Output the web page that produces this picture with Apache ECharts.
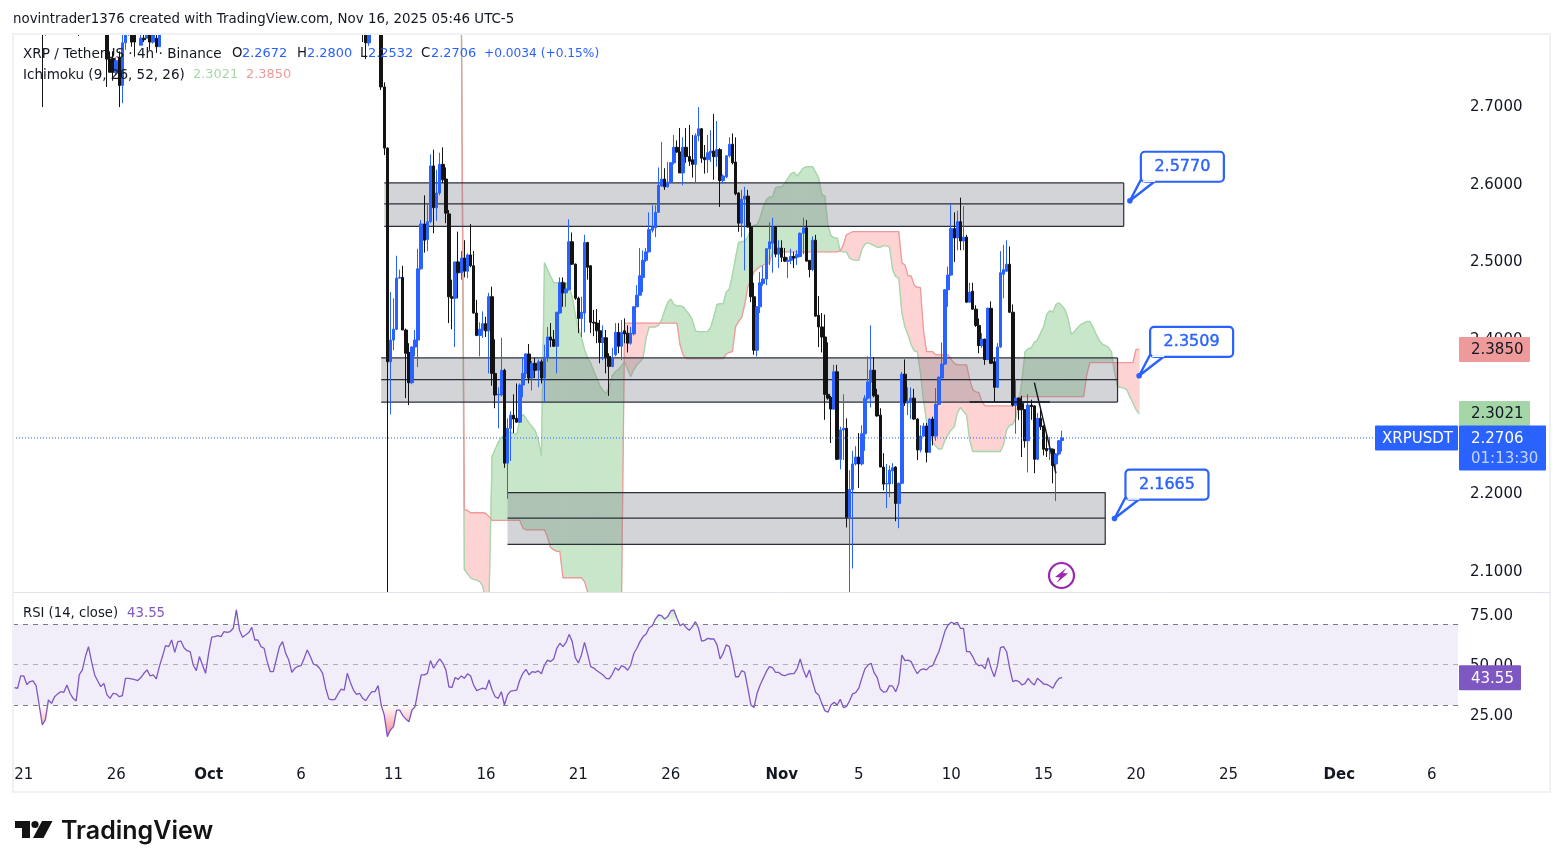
<!DOCTYPE html>
<html>
<head>
<meta charset="utf-8">
<title>XRPUSDT 4h</title>
<script src="https://cdn.jsdelivr.net/npm/echarts@6/dist/echarts.min.js"></script>
<style>
  html, body { margin: 0; padding: 0; background: #fff; }
  #chart { width: 1563px; height: 868px; }
</style>
</head>
<body>
<div id="chart"></div>
<script>
// x positions of the few bars that poke into the picture on the left, then every bar from 121 on
const leftBars = [9,10,21,30,31,32,33,34,35,36,37,38,39,41,42,43,44,45,46,47,113,114,115,119,120]
const firstFullBar = 121

const opens = [
  2.86,2.83,2.83,2.81,2.760,2.761,2.743,2.762,2.726,2.781,2.80,2.794,2.791,2.778,2.787,2.787,2.80,2.782,2.787,2.776,2.80,2.80,2.781,2.84,2.724,
  2.645,2.369,2.397,2.411,2.477,2.478,2.410,2.381,2.342,2.388,
  2.397,2.489,2.547,2.527,2.550,2.622,2.568,2.587,2.624,2.605,
  2.560,2.453,2.451,2.498,2.484,2.503,2.486,2.507,2.493,2.432,
  2.403,2.410,2.418,2.409,2.453,2.354,2.326,2.326,2.358,2.238,
  2.283,2.300,2.296,2.291,2.339,2.354,2.379,2.348,2.367,2.358,
  2.369,2.348,2.374,2.401,2.398,2.389,2.432,2.471,2.458,2.462,
  2.524,2.495,2.451,2.425,2.432,2.523,2.493,2.420,2.419,2.409,
  2.394,2.400,2.376,2.363,2.378,2.407,2.389,2.409,2.406,2.393,
  2.405,2.440,2.455,2.478,2.500,2.511,2.539,2.542,2.562,2.596,
  2.605,2.595,2.601,2.626,2.646,2.640,2.613,2.646,2.634,2.630,
  2.624,2.661,2.670,2.633,2.630,2.639,2.641,2.634,2.643,2.603,
  2.608,2.635,2.650,2.627,2.587,2.548,2.579,2.583,2.543,2.453,
  2.384,2.440,2.470,2.476,2.515,2.522,2.543,2.508,2.516,2.504,
  2.499,2.500,2.505,2.504,2.505,2.535,2.542,2.500,2.488,2.526,
  2.429,2.414,2.401,2.327,2.323,2.308,2.356,2.243,2.281,2.283,
  2.168,2.204,2.237,2.246,2.237,2.276,2.322,2.343,2.358,2.326,
  2.300,2.233,2.211,2.211,2.228,2.233,2.186,2.212,2.353,2.316,
  2.317,2.322,2.295,2.255,2.273,2.286,2.252,2.295,2.273,2.314,
  2.348,2.366,2.462,2.481,2.541,2.529,2.550,2.525,2.530,2.446,
  2.460,2.437,2.416,2.390,2.398,2.372,2.438,2.369,2.336,2.388,
  2.482,2.486,2.495,2.433,2.313,2.322,2.315,2.307,2.267,2.313,
  2.312,2.243,2.296,2.286,2.257,2.256,2.256,2.237,2.250,2.2672
]
const closes = [
  2.82,2.85,2.85,2.760,2.743,2.743,2.758,2.726,2.781,2.80,2.81,2.782,2.782,2.787,2.785,2.80,2.782,2.80,2.776,2.80,2.81,2.781,2.80,2.724,2.645,
  2.369,2.397,2.411,2.477,2.478,2.410,2.380,2.342,2.388,2.397,
  2.489,2.547,2.526,2.550,2.622,2.568,2.587,2.624,2.604,2.561,
  2.453,2.451,2.498,2.484,2.503,2.486,2.507,2.493,2.432,2.403,
  2.411,2.418,2.409,2.453,2.354,2.326,2.327,2.358,2.238,2.283,
  2.300,2.295,2.291,2.339,2.354,2.379,2.348,2.367,2.358,2.369,
  2.348,2.375,2.401,2.397,2.389,2.433,2.471,2.458,2.463,2.524,
  2.495,2.451,2.425,2.433,2.523,2.491,2.420,2.419,2.409,2.394,
  2.400,2.375,2.363,2.374,2.407,2.389,2.407,2.405,2.393,2.406,
  2.440,2.455,2.480,2.500,2.511,2.540,2.543,2.562,2.597,2.605,
  2.595,2.601,2.626,2.646,2.640,2.613,2.646,2.634,2.628,2.624,
  2.661,2.670,2.632,2.630,2.639,2.641,2.634,2.643,2.603,2.609,
  2.635,2.650,2.626,2.586,2.548,2.579,2.583,2.543,2.453,2.384,
  2.440,2.471,2.476,2.515,2.524,2.543,2.508,2.516,2.504,2.499,
  2.500,2.505,2.503,2.508,2.535,2.542,2.499,2.488,2.526,2.428,
  2.414,2.401,2.327,2.322,2.308,2.356,2.243,2.281,2.283,2.168,
  2.204,2.237,2.246,2.237,2.276,2.322,2.343,2.358,2.325,2.299,
  2.233,2.211,2.212,2.229,2.232,2.186,2.212,2.353,2.316,2.318,
  2.322,2.295,2.255,2.273,2.286,2.252,2.295,2.273,2.314,2.349,
  2.366,2.462,2.481,2.541,2.529,2.550,2.525,2.530,2.446,2.459,
  2.437,2.416,2.390,2.398,2.372,2.438,2.367,2.336,2.388,2.484,
  2.488,2.495,2.433,2.313,2.322,2.307,2.307,2.267,2.313,2.311,
  2.243,2.296,2.285,2.256,2.254,2.257,2.235,2.250,2.267,2.2706
]
const highs = [
  2.88,2.87,2.87,2.82,2.77,2.77,2.762,2.77,2.80,2.82,2.83,2.81,2.80,2.80,2.80,2.81,2.81,2.81,2.80,2.81,2.83,2.81,2.81,2.85,2.73,
  2.646,2.459,2.451,2.506,2.488,2.493,2.412,2.393,2.389,2.410,
  2.515,2.552,2.584,2.574,2.637,2.643,2.617,2.639,2.646,2.620,
  2.565,2.475,2.498,2.537,2.512,2.526,2.509,2.547,2.512,2.449,
  2.420,2.434,2.427,2.458,2.466,2.398,2.336,2.400,2.360,2.296,
  2.305,2.327,2.341,2.341,2.375,2.380,2.392,2.370,2.374,2.372,
  2.372,2.391,2.414,2.419,2.410,2.433,2.478,2.478,2.471,2.553,
  2.536,2.496,2.453,2.453,2.533,2.524,2.494,2.436,2.437,2.423,
  2.416,2.410,2.380,2.387,2.419,2.419,2.423,2.425,2.416,2.414,
  2.441,2.468,2.516,2.513,2.516,2.562,2.571,2.571,2.620,2.653,
  2.619,2.627,2.627,2.662,2.655,2.671,2.659,2.671,2.675,2.662,
  2.664,2.698,2.671,2.649,2.662,2.668,2.689,2.680,2.645,2.611,
  2.636,2.659,2.664,2.659,2.588,2.591,2.595,2.591,2.549,2.471,
  2.441,2.485,2.493,2.516,2.549,2.555,2.544,2.526,2.526,2.516,
  2.504,2.515,2.511,2.513,2.536,2.555,2.552,2.500,2.531,2.533,
  2.454,2.432,2.430,2.394,2.325,2.365,2.365,2.285,2.327,2.296,
  2.229,2.254,2.260,2.277,2.287,2.326,2.376,2.416,2.375,2.334,
  2.309,2.251,2.237,2.235,2.238,2.234,2.213,2.356,2.372,2.336,
  2.336,2.334,2.296,2.287,2.290,2.290,2.296,2.298,2.335,2.350,
  2.394,2.463,2.492,2.573,2.562,2.564,2.581,2.570,2.533,2.471,
  2.471,2.442,2.425,2.406,2.399,2.439,2.447,2.374,2.393,2.512,
  2.520,2.526,2.518,2.443,2.347,2.323,2.325,2.308,2.327,2.320,
  2.313,2.303,2.307,2.287,2.277,2.272,2.257,2.251,2.268,2.2800
]
const lows = [
  2.698,2.790,2.790,2.724,2.743,2.732,2.739,2.698,2.703,2.772,2.79,2.776,2.763,2.778,2.782,2.788,2.772,2.78,2.768,2.776,2.782,2.760,2.777,2.72,2.636,
  2.060,2.301,2.384,2.410,2.477,2.410,2.322,2.313,2.340,2.376,
  2.362,2.488,2.510,2.512,2.548,2.535,2.551,2.584,2.600,2.548,
  2.419,2.411,2.388,2.451,2.475,2.478,2.477,2.491,2.431,2.402,
  2.376,2.400,2.401,2.354,2.338,2.309,2.283,2.324,2.232,2.192,
  2.241,2.277,2.290,2.290,2.323,2.348,2.341,2.332,2.348,2.336,
  2.341,2.317,2.369,2.388,2.388,2.354,2.431,2.440,2.440,2.461,
  2.494,2.449,2.406,2.401,2.407,2.475,2.406,2.402,2.393,2.367,
  2.371,2.354,2.325,2.362,2.376,2.380,2.371,2.393,2.381,2.391,
  2.403,2.440,2.455,2.459,2.498,2.510,2.536,2.530,2.562,2.595,
  2.591,2.594,2.600,2.624,2.639,2.613,2.597,2.626,2.622,2.607,
  2.601,2.654,2.626,2.612,2.613,2.627,2.604,2.621,2.569,2.599,
  2.606,2.633,2.624,2.584,2.537,2.530,2.487,2.543,2.446,2.378,
  2.376,2.432,2.467,2.468,2.494,2.484,2.504,2.490,2.498,2.498,
  2.477,2.495,2.490,2.494,2.504,2.508,2.499,2.478,2.486,2.427,
  2.388,2.381,2.294,2.320,2.264,2.307,2.242,2.230,2.242,2.155,
  2.071,2.102,2.235,2.206,2.235,2.254,2.320,2.310,2.323,2.298,
  2.233,2.203,2.180,2.194,2.211,2.163,2.154,2.211,2.312,2.300,
  2.295,2.294,2.242,2.252,2.272,2.239,2.252,2.261,2.267,2.313,
  2.348,2.365,2.440,2.480,2.498,2.513,2.513,2.513,2.445,2.445,
  2.436,2.414,2.380,2.387,2.365,2.371,2.366,2.317,2.335,2.387,
  2.451,2.485,2.432,2.311,2.276,2.294,2.246,2.258,2.226,2.294,
  2.225,2.242,2.281,2.248,2.246,2.242,2.212,2.189,2.248,2.2532
]

// Ichimoku cloud, spans read bar by bar from this bar on
const cloudStart = 145
const spanA = [
  2.84,2.101,2.095,2.090,2.088,2.087,2.085,2.079,2.06,2.06,
  2.247,2.256,2.265,2.271,2.275,2.278,2.278,2.276,2.275,2.294,
  2.301,2.296,2.290,2.285,2.280,2.268,2.247,2.497,2.488,2.479,
  2.471,2.471,2.471,2.472,2.471,2.465,2.453,2.430,2.413,2.400,
  2.385,2.374,2.367,2.357,2.348,2.338,2.332,2.328,2.336,2.351,
  2.356,2.359,2.364,2.369,2.359,2.350,2.359,2.365,2.369,2.374,
  2.400,2.414,2.414,2.414,2.416,2.423,2.435,2.446,2.450,2.443,
  2.441,2.441,2.440,2.435,2.430,2.423,2.409,2.408,2.408,2.408,
  2.408,2.414,2.428,2.443,2.444,2.444,2.459,2.463,2.481,2.503,
  2.523,2.524,2.525,2.530,2.541,2.545,2.546,2.555,2.569,2.578,
  2.582,2.582,2.594,2.595,2.595,2.600,2.606,2.612,2.614,2.609,
  2.614,2.619,2.621,2.621,2.621,2.614,2.606,2.585,2.583,2.545,
  2.532,2.529,2.529,2.512,2.511,2.511,2.503,2.501,2.500,2.500,
  2.514,2.521,2.523,2.521,2.519,2.517,2.517,2.519,2.519,2.517,
  2.488,2.479,2.477,2.432,2.414,2.404,2.391,2.383,2.382,2.356,
  2.320,2.292,2.274,2.265,2.260,2.256,2.257,2.268,2.275,2.281,
  2.285,2.303,2.310,2.305,2.300,2.268,2.253,2.253,2.253,2.253,
  2.253,2.253,2.253,2.253,2.253,2.253,2.262,2.281,2.287,2.288,
  2.297,2.314,2.346,2.382,2.386,2.387,2.394,2.397,2.406,2.414,
  2.430,2.435,2.433,2.443,2.445,2.441,2.436,2.423,2.404,2.408,
  2.413,2.417,2.419,2.421,2.421,2.414,2.405,2.397,2.392,2.390,
  2.388,2.382,2.356,2.337,2.336,2.335,2.333,2.324,2.316,2.307,2.3021
]
const spanB = [
  2.83,2.178,2.177,2.174,2.174,2.174,2.174,2.174,2.173,2.169,
  2.164,2.164,2.164,2.164,2.164,2.164,2.164,2.164,2.164,2.164,
  2.154,2.152,2.152,2.152,2.152,2.152,2.152,2.152,2.142,2.129,
  2.126,2.124,2.124,2.090,2.090,2.090,2.090,2.090,2.090,2.090,
  2.085,2.072,2.06,2.06,2.06,2.06,2.06,2.06,2.06,2.06,
  2.06,2.06,2.06,2.419,2.419,2.419,2.419,2.419,2.419,2.419,
  2.419,2.419,2.419,2.419,2.419,2.419,2.419,2.419,2.419,2.419,
  2.419,2.391,2.378,2.373,2.373,2.373,2.373,2.373,2.373,2.373,
  2.373,2.373,2.373,2.373,2.373,2.373,2.379,2.381,2.382,2.414,
  2.421,2.426,2.443,2.466,2.475,2.485,2.489,2.492,2.494,2.496,
  2.497,2.511,2.511,2.511,2.511,2.511,2.511,2.511,2.511,2.511,
  2.511,2.511,2.511,2.511,2.511,2.511,2.511,2.511,2.511,2.511,
  2.511,2.511,2.511,2.512,2.520,2.533,2.535,2.537,2.537,2.537,
  2.537,2.537,2.537,2.537,2.537,2.537,2.537,2.537,2.537,2.537,
  2.537,2.537,2.537,2.497,2.494,2.480,2.480,2.468,2.465,2.465,
  2.410,2.382,2.382,2.382,2.378,2.378,2.378,2.378,2.378,2.372,
  2.367,2.365,2.365,2.365,2.365,2.346,2.333,2.330,2.329,2.317,
  2.312,2.312,2.312,2.312,2.312,2.312,2.312,2.312,2.312,2.312,
  2.317,2.321,2.324,2.324,2.324,2.324,2.324,2.324,2.324,2.324,
  2.324,2.324,2.324,2.324,2.324,2.324,2.324,2.324,2.324,2.324,
  2.324,2.324,2.324,2.352,2.368,2.368,2.368,2.368,2.368,2.368,
  2.368,2.368,2.368,2.368,2.368,2.368,2.368,2.368,2.368,2.385,2.3850
]

const rsi = [
  38.6,38.3,44.4,44.4,40.2,41.6,41.9,39.6,30,20.1,
  22.6,32.5,30.8,34.1,35.5,36.6,36.3,39.9,35.8,33.3,
  32,44.9,47.4,54,58.9,51.5,44.9,41.9,39.1,40.7,
  35,33.3,35.8,35.5,34.1,34.6,43.2,43.2,42.9,42.6,
  42.1,43.6,45.7,47.4,44.4,44.9,42.9,49,54,59.4,
  58.9,62.2,56.1,61.4,61.7,58.4,56.9,56.4,49.8,47,
  54,49.8,45.7,55.6,63.6,63.9,64.4,63.9,66.4,66,
  66.4,68,77.1,67.2,63.6,64.7,65.9,68.5,62.2,62.2,
  58.9,58.1,51.5,46.5,46.5,52.8,58.9,61.4,55.6,52.3,
  46.2,48.2,49.2,49.5,53.1,57.3,54,50.3,49.8,48.2,
  45.7,38.3,33,32.5,32.8,35.5,37.9,37.4,45.7,41.2,
  37.4,35.3,35.8,33.3,32.1,34.6,36.6,36.6,39.6,30,
  25,14.3,17.6,19.3,27.5,27.5,24.7,23,21.7,27.5,
  29.2,37.4,44.9,44.9,45.7,52,48.2,50.7,52.8,50.7,
  47.4,38.9,38.8,43.6,42.7,44.4,43.2,45.4,44.5,39.9,
  37.1,37.8,38.3,37.8,42.4,37.4,34.1,33.3,36.6,30,
  35,36.9,37.1,37.4,42.4,45.7,47.7,44.9,46.5,46.2,
  46.9,45.5,49.8,52.2,51.5,52.8,58.1,60.6,58.9,61,
  65,61.4,53.5,50.8,54.8,61,55.3,49,48.3,47,
  46,44.9,43.2,42.9,45.2,48.5,47.2,49.5,48.8,47.2,
  49.8,55.5,58.1,61.4,63.9,65.2,68.3,69.3,72.6,74.6,
  74.3,72.6,73.8,76.6,77.1,73,69.3,70.3,68.3,67,
  68.8,71.3,68,61.7,62,63,62.7,62.7,59.8,52.8,
  55.6,59.8,58.9,52.3,44,44,47,46.2,38.3,30,
  28.7,35.8,39.9,43.2,46.5,49,48.5,46.2,46.2,44.9,
  44.5,45.2,45.5,45.5,47.9,52.8,47.4,43.6,47.4,41.6,
  36.3,35,30.8,27.2,26.4,30,31.3,30,32.8,28.7,
  29.2,32,35.5,36.1,38.3,43.2,47.9,49.8,50.7,46,
  43.6,37.9,36.4,36.6,39.6,39.3,36.6,40.7,54.8,52,
  52.2,51.5,48.2,45.5,47.4,47.9,47.4,49,49.5,53.1,
  56.4,61.4,66.7,69.7,71,70.3,71,68,68,56.4,
  56.4,54,50.7,49.5,49.8,47.9,53.5,47.9,44,49.5,
  58.4,58.9,56.4,48.2,41.6,42.2,41.6,39.9,40.7,43.2,
  41.2,39.9,43.2,41.9,40.4,40.2,39.4,38.3,41.2,43.2,43.55
]

// grey zones and their mid lines
const zoneStart = [120, 119, 160]
const zoneEnd = [360, 358, 354]
const zoneTop = [2.600, 2.374, 2.200]
const zoneMid = [2.573, 2.346, 2.167]
const zoneBottom = [2.544, 2.317, 2.133]

// drawn lines: start bar, start price, end bar, end price
const lineStartBar = [331, 310]
const lineStartPrice = [2.342, 2.317]
const lineEndBar = [338, 336]
const lineEndPrice = [2.225, 2.317]

const calloutBars = [362, 365, 357]
const calloutValues = [2.5770, 2.3509, 2.1665]

const priceTicks = [2.1, 2.2, 2.3, 2.4, 2.5, 2.6, 2.7]
const rsiTicks = [25, 50, 75]
const timeTickBars = [3,33,63,93,123,153,183,213,249,274,304,334,364,394,430,460]
const timeTickLabels = ['21','26','Oct','6','11','16','21','26','Nov','5','10','15','20','25','Dec','6']

const lastBar = 340
const lastClose = 2.2706
const lastSpanA = 2.3021
const lastSpanB = 2.3850
const lastRsi = 43.55
const countdown = '01:13:30'

const BLUE = '#2962ff'
const BLACK = '#131313'
const TEXT = '#131722'
const FONT = '"DejaVu Sans", sans-serif'
const PRICE_MIN = 2.0716
const PRICE_MAX = 2.7924

const axisBars = Array.from({ length: 469 }, (_, i) => String(i))
// candlestick clip only drops whole boxes, so keep bars inside the pane
const inPane = v => Math.max(PRICE_MIN, Math.min(PRICE_MAX, v))
const candleData = axisBars.map(() => ['-', '-', '-', '-'])
const barIndex = leftBars.concat(opens.slice(leftBars.length).map((_, k) => firstFullBar + k))
barIndex.forEach((b, k) => { candleData[b] = [opens[k], closes[k], lows[k], highs[k]].map(inPane) })

const padSpan = span => axisBars.map((_, b) => {
  const v = span[b - cloudStart]
  return v === undefined ? null : v
})

function renderCloud(params, api) {
  const k = params.dataIndex
  if (k >= spanA.length - 1) return null
  const x0 = cloudStart + k, x1 = x0 + 1
  const a0 = api.coord([x0, spanA[k]]), a1 = api.coord([x1, spanA[k + 1]])
  const b0 = api.coord([x0, spanB[k]]), b1 = api.coord([x1, spanB[k + 1]])
  const d0 = spanA[k] - spanB[k], d1 = spanA[k + 1] - spanB[k + 1]
  const poly = (pts, up) => ({
    type: 'polygon',
    shape: { points: pts },
    style: { fill: up ? '#c8e6c9' : '#fdd3d3', stroke: up ? '#c8e6c9' : '#fdd3d3', lineWidth: 1 }
  })
  if (d0 * d1 >= 0) {
    return { type: 'group', children: [poly([a0, a1, b1, b0], d0 + d1 > 0)] }
  }
  const t = d0 / (d0 - d1)
  const cross = [a0[0] + (a1[0] - a0[0]) * t, a0[1] + (a1[1] - a0[1]) * t]
  return { type: 'group', children: [poly([a0, cross, b0], d0 > 0), poly([cross, a1, b1], d1 > 0)] }
}

function renderZone(params, api) {
  const i = params.dataIndex
  const tl = api.coord([zoneStart[i], zoneTop[i]])
  const br = api.coord([zoneEnd[i], zoneBottom[i]])
  const mid = api.coord([zoneEnd[i], zoneMid[i]])
  const stroke = { stroke: '#2a2e39', lineWidth: 1.2 }
  const line = (x1, y1, x2, y2) => ({ type: 'line', shape: { x1, y1, x2, y2 }, style: stroke })
  return {
    type: 'group',
    children: [
      { type: 'rect', shape: { x: tl[0], y: tl[1], width: br[0] - tl[0], height: br[1] - tl[1] }, style: { fill: 'rgba(120,123,134,0.33)' } },
      line(tl[0], tl[1], br[0], tl[1]),
      line(tl[0], mid[1], br[0], mid[1]),
      line(tl[0], br[1], br[0], br[1]),
      line(br[0], tl[1], br[0], br[1])
    ]
  }
}

function renderDrawnLine(params, api) {
  const i = params.dataIndex
  const s = api.coord([lineStartBar[i], lineStartPrice[i]])
  const e = api.coord([lineEndBar[i], lineEndPrice[i]])
  return { type: 'line', shape: { x1: s[0], y1: s[1], x2: e[0], y2: e[1] }, style: { stroke: '#131722', lineWidth: 1.4 } }
}

function renderCallout(params, api) {
  const i = params.dataIndex
  const p = api.coord([calloutBars[i], calloutValues[i]])
  const bx = p[0] + 11, by = p[1] - 49
  return {
    type: 'group',
    children: [
      { type: 'polygon', shape: { points: [[bx, by + 28], [bx + 16, by + 28], p] }, style: { fill: '#fff', stroke: BLUE, lineWidth: 2.4, lineJoin: 'round' } },
      { type: 'rect', shape: { x: bx, y: by, width: 83, height: 30, r: 4 }, style: { fill: '#fff', stroke: BLUE, lineWidth: 2.2 } },
      { type: 'line', shape: { x1: bx + 2, y1: by + 29.5, x2: bx + 14, y2: by + 29.5 }, style: { stroke: '#fff', lineWidth: 1.5 } },
      { type: 'circle', shape: { cx: p[0], cy: p[1], r: 2.8 }, style: { fill: BLUE } },
      { type: 'text', x: bx + 41.5, y: by + 15, style: { text: calloutValues[i].toFixed(4), fill: BLUE, stroke: BLUE, lineWidth: 0.4, font: '16px ' + FONT, align: 'center', verticalAlign: 'middle' } }
    ]
  }
}

function tag(y, x, w, h, fill, color, text, textX) {
  return [
    { type: 'rect', shape: { x, y: y - 12.5, width: w, height: h, r: 1 }, style: { fill } },
    { type: 'text', x: textX, y: y + 1, style: { text, fill: color, font: '15px ' + FONT, verticalAlign: 'middle' } }
  ]
}

function renderPriceTags(params, api) {
  const i = params.dataIndex
  if (i === 0) return { type: 'group', children: tag(api.coord([lastBar, lastSpanB])[1], 1459, 71, 25, '#ef9a9a', TEXT, lastSpanB.toFixed(4), 1471) }
  if (i === 1) return { type: 'group', children: tag(api.coord([lastBar, lastSpanA])[1], 1459, 71, 25, '#a5d6a7', TEXT, lastSpanA.toFixed(4), 1471) }
  const y = api.coord([lastBar, lastClose])[1]
  return {
    type: 'group',
    children: [
      { type: 'line', shape: { x1: 13, y1: y, x2: 1375, y2: y }, style: { stroke: BLUE, lineWidth: 1, lineDash: [1, 2] } },
      ...tag(y, 1375, 83, 25, BLUE, '#fff', 'XRPUSDT', 1382),
      { type: 'rect', shape: { x: 1459, y: y - 12.5, width: 87, height: 45, r: 1 }, style: { fill: BLUE } },
      { type: 'text', x: 1471, y: y + 1, style: { text: lastClose.toFixed(4), fill: '#fff', font: '15px ' + FONT, verticalAlign: 'middle' } },
      { type: 'text', x: 1471, y: y + 21, style: { text: countdown, fill: 'rgba(255,255,255,0.72)', font: '15px ' + FONT, verticalAlign: 'middle' } }
    ]
  }
}

function renderRsiTag(params, api) {
  const y = api.coord([lastBar, lastRsi])[1]
  return { type: 'group', children: tag(y, 1459, 62, 25, '#7e57c2', '#fff', lastRsi.toFixed(2), 1471) }
}

const label = (text, x, y, fill = TEXT, size = 13.3) => ({
  type: 'text', x, y, z: 100,
  style: { text, fill, font: size + 'px ' + FONT, verticalAlign: 'middle' }
})

// axis labels sit a little under their tick, the top padding of a rich token moves them down
const axisText = top => ({ padding: [top, 0, 0, 0], color: TEXT, fontSize: 15, fontFamily: FONT })

const chart = echarts.init(document.getElementById('chart'), null, { renderer: 'canvas' })
chart.setOption({
  animation: false,
  backgroundColor: '#fff',
  grid: [
    { left: 13, top: 34, width: 1445, height: 558 },
    { left: 13, top: 593, width: 1445, height: 159 }
  ],
  xAxis: [
    { type: 'category', gridIndex: 0, data: axisBars, axisLine: { show: false }, axisTick: { show: false }, axisLabel: { show: false }, splitLine: { show: false } },
    {
      type: 'category', gridIndex: 1, data: axisBars,
      axisLine: { show: false }, axisTick: { show: false }, splitLine: { show: false },
      axisLabel: {
        interval: index => timeTickBars.includes(index),
        formatter: value => {
          const t = timeTickLabels[timeTickBars.indexOf(Number(value))]
          return /[a-z]/.test(t) ? '{b|' + t + '}' : t
        },
        rich: { b: { fontWeight: 'bold', fontSize: 15, fontFamily: FONT, color: TEXT } },
        color: TEXT, fontSize: 15, fontFamily: FONT, margin: 16
      }
    }
  ],
  yAxis: [
    {
      type: 'value', gridIndex: 0, position: 'right', min: PRICE_MIN, max: PRICE_MAX, scale: true,
      axisLine: { show: false }, axisTick: { show: false }, splitLine: { show: false },
      axisLabel: { customValues: priceTicks, formatter: v => '{p|' + v.toFixed(4) + '}', rich: { p: axisText(4) }, margin: 12 }
    },
    {
      type: 'value', gridIndex: 1, position: 'right', min: 6.7, max: 85.5,
      axisLine: { show: false }, axisTick: { show: false }, splitLine: { show: false },
      axisLabel: { customValues: rsiTicks, formatter: v => '{p|' + v.toFixed(2) + '}', rich: { p: axisText(3) }, margin: 12 }
    }
  ],
  series: [
    { type: 'custom', name: 'cloud', coordinateSystem: 'cartesian2d', xAxisIndex: 0, yAxisIndex: 0, z: 1, clip: true, silent: true,
      renderItem: renderCloud, data: spanA.map((a, k) => [cloudStart + k, a]), encode: { x: 0, y: 1 } },
    { type: 'line', name: 'Span A', xAxisIndex: 0, yAxisIndex: 0, z: 2, symbol: 'none', connectNulls: false,
      lineStyle: { color: '#a9d6ab', width: 1.4 }, data: padSpan(spanA) },
    { type: 'line', name: 'Span B', xAxisIndex: 0, yAxisIndex: 0, z: 2, symbol: 'none', connectNulls: false,
      lineStyle: { color: '#ef9a9a', width: 1.3 }, data: padSpan(spanB) },
    { type: 'custom', name: 'zones', coordinateSystem: 'cartesian2d', xAxisIndex: 0, yAxisIndex: 0, z: 3, clip: true, silent: true,
      renderItem: renderZone, data: zoneStart.map((s, i) => [s, zoneMid[i]]), encode: { x: 0, y: 1 } },
    { type: 'candlestick', name: 'XRPUSDT', xAxisIndex: 0, yAxisIndex: 0, z: 4, barWidth: 3,
      itemStyle: { color: BLUE, color0: BLACK, borderColor: BLUE, borderColor0: BLACK, borderWidth: 1 },
      data: candleData },
    { type: 'custom', name: 'drawn lines', coordinateSystem: 'cartesian2d', xAxisIndex: 0, yAxisIndex: 0, z: 5, clip: true, silent: true,
      renderItem: renderDrawnLine, data: lineStartBar.map((b, i) => [b, lineStartPrice[i]]), encode: { x: 0, y: 1 } },
    { type: 'custom', name: 'callouts', coordinateSystem: 'cartesian2d', xAxisIndex: 0, yAxisIndex: 0, z: 6, silent: true,
      renderItem: renderCallout, data: calloutBars.map((b, i) => [b, calloutValues[i]]), encode: { x: 0, y: 1 } },
    { type: 'custom', name: 'price tags', coordinateSystem: 'cartesian2d', xAxisIndex: 0, yAxisIndex: 0, z: 7, silent: true,
      renderItem: renderPriceTags, data: [[lastBar, lastSpanB], [lastBar, lastSpanA], [lastBar, lastClose]], encode: { x: 0, y: 1 } },

    { type: 'line', name: 'RSI', xAxisIndex: 1, yAxisIndex: 1, z: 4, symbol: 'none',
      lineStyle: { color: '#7e57c2', width: 1.3 }, data: rsi,
      markArea: { silent: true, itemStyle: { color: 'rgba(126,87,194,0.1)' }, data: [[{ yAxis: 70 }, { yAxis: 30 }]] },
      markLine: {
        silent: true, symbol: 'none', label: { show: false },
        data: [
          { yAxis: 70, lineStyle: { color: '#787b86', type: [5, 5], width: 1 } },
          { yAxis: 50, lineStyle: { color: 'rgba(120,123,134,0.55)', type: [5, 5], width: 1 } },
          { yAxis: 30, lineStyle: { color: '#787b86', type: [5, 5], width: 1 } }
        ]
      }
    },
    { type: 'line', name: 'oversold fill', xAxisIndex: 1, yAxisIndex: 1, z: 3, symbol: 'none', silent: true,
      lineStyle: { width: 0 }, data: rsi.map(v => Math.min(v, 30)),
      areaStyle: { origin: 30, opacity: 1, color: new echarts.graphic.LinearGradient(0, 0, 0, 1, [
        { offset: 0, color: 'rgba(242,54,69,0)' }, { offset: 1, color: 'rgba(242,54,69,0.6)' }]) } },
    { type: 'line', name: 'overbought fill', xAxisIndex: 1, yAxisIndex: 1, z: 3, symbol: 'none', silent: true,
      lineStyle: { width: 0 }, data: rsi.map(v => Math.max(v, 70)),
      areaStyle: { origin: 70, opacity: 1, color: new echarts.graphic.LinearGradient(0, 0, 0, 1, [
        { offset: 0, color: 'rgba(76,175,80,0.35)' }, { offset: 1, color: 'rgba(76,175,80,0)' }]) } },
    { type: 'custom', name: 'rsi tag', coordinateSystem: 'cartesian2d', xAxisIndex: 1, yAxisIndex: 1, z: 7, silent: true,
      renderItem: renderRsiTag, data: [[lastBar, lastRsi]], encode: { x: 0, y: 1 } }
  ],
  graphic: { elements: [
    // frame and pane divider
    { type: 'rect', z: 90, shape: { x: 13, y: 34, width: 1537, height: 758 }, style: { fill: 'none', stroke: '#f1f1f3', lineWidth: 2 } },
    { type: 'line', z: 90, shape: { x1: 13, y1: 592.5, x2: 1550, y2: 592.5 }, style: { stroke: '#e0e3eb', lineWidth: 1 } },

    label('novintrader1376 created with TradingView.com, Nov 16, 2025 05:46 UTC-5', 13, 20, TEXT, 13.36),

    label('XRP / TetherUS · 4h · Binance', 23, 54, TEXT, 13.6),
    label('O', 232, 54), label('2.2672', 242, 54, BLUE, 12.9),
    label('H', 297, 54), label('2.2800', 307, 54, BLUE, 12.9),
    label('L', 360, 54), label('2.2532', 368, 54, BLUE, 12.9),
    label('C', 421, 54), label('2.2706', 431, 54, BLUE, 12.9),
    label('+0.0034 (+0.15%)', 484, 54, BLUE, 12.2),

    label('Ichimoku (9, 26, 52, 26)', 23, 75, TEXT, 13.5),
    label('2.3021', 193, 75, '#a5d6a7', 12.9),
    label('2.3850', 246, 75, '#ef9a9a', 12.9),

    label('RSI (14, close)', 23, 614, TEXT, 13.2),
    label('43.55', 127, 614, '#7e57c2', 13.3),

    // lightning badge
    { type: 'circle', z: 90, shape: { cx: 1061.5, cy: 575.5, r: 12.5 }, style: { fill: '#fff', stroke: '#9c27b0', lineWidth: 2.2 } },
    { type: 'polygon', z: 91, shape: { points: [[1066.5, 568], [1055, 577], [1060, 577.5], [1056.5, 583], [1068, 573.5], [1063, 573]] }, style: { fill: '#9c27b0' } },

    // logo
    { type: 'polygon', z: 90, shape: { points: [[15, 821], [30, 821], [30, 838], [22, 838], [22, 828], [15, 828]] }, style: { fill: BLACK } },
    { type: 'circle', z: 90, shape: { cx: 35, cy: 824.5, r: 3.6 }, style: { fill: BLACK } },
    { type: 'polygon', z: 90, shape: { points: [[42, 821], [52.5, 821], [43.5, 838], [33, 838]] }, style: { fill: BLACK } },
    { type: 'text', z: 90, x: 61, y: 831, style: { text: 'TradingView', fill: BLACK, font: '600 25px Inter, sans-serif', verticalAlign: 'middle' } }
  ] }
})
</script>
</body>
</html>
